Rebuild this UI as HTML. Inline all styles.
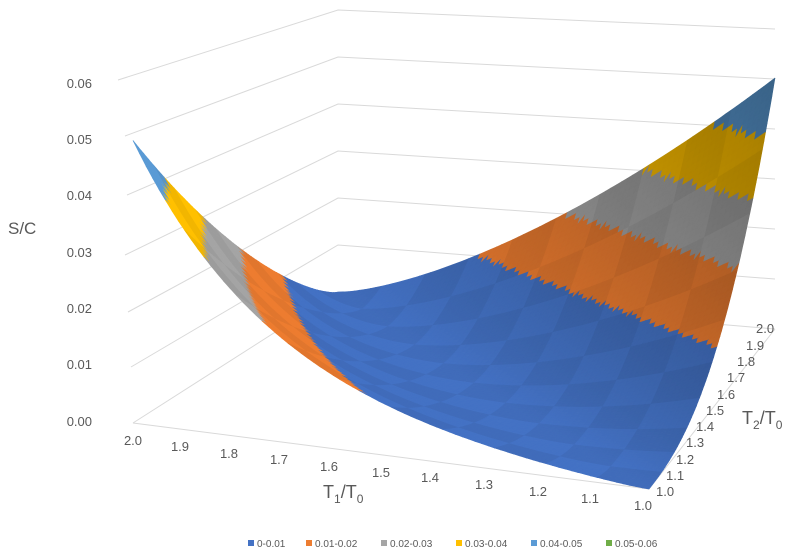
<!DOCTYPE html>
<html><head><meta charset="utf-8"><style>
body{margin:0;background:#fff}
svg{display:block;font-family:"Liberation Sans",sans-serif}
</style></head><body>
<svg id="s" width="800" height="559" viewBox="0 0 800 559" xmlns="http://www.w3.org/2000/svg">
<g id="grid" stroke="#d9d9d9" stroke-width="1" fill="none"></g>
<g id="surf"></g>
<g fill="#595959" font-size="13">
<g text-anchor="end">
<text x="92" y="88">0.06</text><text x="92" y="144">0.05</text><text x="92" y="200">0.04</text>
<text x="92" y="257">0.03</text><text x="92" y="313">0.02</text><text x="92" y="369">0.01</text><text x="92" y="426">0.00</text>
</g>
<g text-anchor="middle">
<text x="133" y="445">2.0</text><text x="180" y="451">1.9</text><text x="229" y="458">1.8</text>
<text x="279" y="464">1.7</text><text x="329" y="471">1.6</text><text x="381" y="477">1.5</text>
<text x="430" y="482">1.4</text><text x="484" y="489">1.3</text><text x="538" y="496">1.2</text>
<text x="590" y="503">1.1</text><text x="643" y="510">1.0</text>
</g>
<text x="656" y="496">1.0</text><text x="666" y="480">1.1</text><text x="676" y="464">1.2</text>
<text x="686" y="447">1.3</text><text x="696" y="431">1.4</text><text x="706" y="415">1.5</text>
<text x="717" y="399">1.6</text><text x="727" y="382">1.7</text><text x="737" y="366">1.8</text>
<text x="746" y="350">1.9</text><text x="756" y="333">2.0</text>
<text x="8" y="234" font-size="17">S/C</text>
<text x="323" y="498" font-size="18">T<tspan font-size="12" dy="5">1</tspan><tspan dy="-5">/T</tspan><tspan font-size="12" dy="5">0</tspan></text>
<text x="742" y="424" font-size="18">T<tspan font-size="12" dy="5">2</tspan><tspan dy="-5">/T</tspan><tspan font-size="12" dy="5">0</tspan></text>
</g>
<g font-size="10" fill="#595959">
<rect x="248" y="540" width="6" height="6" fill="#4472C4"/><text x="257" y="547">0-0.01</text>
<rect x="306" y="540" width="6" height="6" fill="#ED7D31"/><text x="315" y="547">0.01-0.02</text>
<rect x="381" y="540" width="6" height="6" fill="#A5A5A5"/><text x="390" y="547">0.02-0.03</text>
<rect x="456" y="540" width="6" height="6" fill="#FFC000"/><text x="465" y="547">0.03-0.04</text>
<rect x="531" y="540" width="6" height="6" fill="#5B9BD5"/><text x="540" y="547">0.04-0.05</text>
<rect x="606" y="540" width="6" height="6" fill="#70AD47"/><text x="615" y="547">0.05-0.06</text>
</g>
</svg>
<script>
var NS="http://www.w3.org/2000/svg";
function el(p,t,a){var e=document.createElementNS(NS,t);for(var k in a)e.setAttribute(k,a[k]);p.appendChild(e);return e;}
var g=document.getElementById("grid");
var lx=[118,125,127,125,128,131,133],ly=[80,136,195,255,312,367,423];
for(var k=0;k<7;k++){var i=6-k;var yb=292-k*47,yr=329-k*50;
 el(g,"polyline",{points:lx[i]+","+ly[i]+" 338,"+yb+" 775,"+yr});}
el(g,"polyline",{points:"133,423 649,489 775,329"});
var P00=[133,423],P10=[649,489],P01=[338,292],P11=[775,328];
var S00=56.5,S10=62,S01=47,S11=50;
function proj(u,v,z){
 var x=(1-u)*(1-v)*P00[0]+u*(1-v)*P10[0]+(1-u)*v*P01[0]+u*v*P11[0];
 var y=(1-u)*(1-v)*P00[1]+u*(1-v)*P10[1]+(1-u)*v*P01[1]+u*v*P11[1];
 var s=(1-u)*(1-v)*S00+u*(1-v)*S10+(1-u)*v*S01+u*v*S11;
 return [x,y-z*100*s];}
function Z(u,v){var d=1-u-v;var p;
 if(d<=0){var a=1-u,b=1-v;var w=b/(a+b+1e-9);p=1.4+1.2*w;d=-d;}
 else{var w2=u/(u+v+1e-9);p=1.2+w2*(3.6-2*u-1.2);}
 return 0.05*Math.pow(d,p);}
var cols=[[68,114,196],[237,125,49],[165,165,165],[255,192,0],[91,155,213],[112,173,71]];
var sf=document.getElementById("surf");
var N=80;
function tri(pts){
 var z=0,u=0,v=0;pts.forEach(function(p){z+=Z(p[0],p[1]);u+=p[0];v+=p[1];});z/=3;u/=3;v/=3;
 var b=Math.min(5,Math.floor(z/0.01+1e-9));
 var d=1-u-v;var f=1-0.36*Math.max(0,-d);
 var cell=Math.floor(u*10)+Math.floor(v*10);f*=(cell%2?0.95:1);
 var c=cols[b];
 var s=pts.map(function(p){var q=proj(p[0],p[1],Z(p[0],p[1]));return q[0].toFixed(1)+","+q[1].toFixed(1);}).join(" ");
 var col="rgb("+Math.round(c[0]*f)+","+Math.round(c[1]*f)+","+Math.round(c[2]*f)+")";
 el(sf,"polygon",{points:s,fill:col,stroke:col,"stroke-width":"0.6"});}
for(var j=N-1;j>=0;j--){for(var i=0;i<N;i++){
 var u0=i/N,u1=(i+1)/N,v0=j/N,v1=(j+1)/N;
 tri([[u0,v1],[u1,v1],[u0,v0]]);tri([[u1,v1],[u1,v0],[u0,v0]]);}}
</script>
</body></html>
